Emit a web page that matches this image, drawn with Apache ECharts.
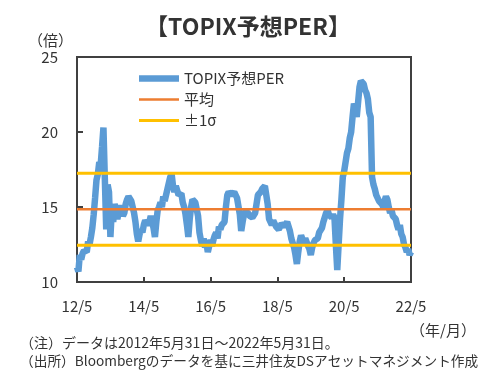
<!DOCTYPE html>
<html><head><meta charset="utf-8">
<script src="https://cdn.jsdelivr.net/npm/echarts@6/dist/echarts.min.js"></script>
<style>html,body{margin:0;padding:0;background:#fff}#c{width:502px;height:382px}</style>
</head><body><div id="c"></div>
<script>
// Month offsets from 2012/5 (half-month steps) and TOPIX forward PER values
const perValues = [
 11.0,10.7,11.8,11.5,11.9,12.1,12.2,12.0,12.7,12.5,13.0,13.6,14.5,15.6,16.8,17.2,18.0,17.8,19.0,20.3,20.4,13.5,16.5,16.0,
 13.0,14.8,14.0,15.2,14.8,14.2,14.3,15.1,15.0,14.4,14.6,15.2,15.5,15.7,15.6,15.4,15.0,14.6,14.0,13.2,12.7,13.2,13.5,13.3,
 13.8,14.1,14.2,13.8,14.0,14.4,14.5,13.6,13.0,14.0,14.8,15.0,15.3,15.0,15.7,15.4,15.8,16.2,16.3,17.0,17.2,16.4,16.0,16.4,
 16.1,15.8,15.8,15.9,15.3,15.0,14.5,13.8,13.0,14.2,15.0,15.5,15.5,15.3,15.2,14.4,13.3,12.8,12.4,12.9,12.3,12.6,12.0,12.4,
 12.8,12.4,12.8,13.1,13.3,12.9,13.7,13.5,13.8,13.9,14.0,15.0,15.8,16.0,16.1,15.8,15.9,16.0,15.9,15.6,15.7,14.5,13.4,14.0,
 14.5,14.7,14.8,14.6,14.4,14.5,14.3,14.2,14.6,15.2,15.8,15.9,16.0,16.2,16.2,16.4,16.3,15.2,14.2,14.0,13.8,14.1,14.0,13.7,
 13.8,13.5,13.6,13.9,14.0,13.7,13.8,14.0,13.9,13.4,12.9,12.6,12.3,11.8,11.2,12.0,12.7,13.1,13.0,12.6,12.9,12.8,12.4,12.2,
 11.8,12.3,12.6,12.8,12.7,12.9,13.3,13.2,13.6,14.0,14.3,14.6,14.8,14.5,14.6,14.3,14.5,14.3,12.5,10.8,12.5,14.2,15.5,17.0,
 17.4,18.0,18.6,18.9,19.6,20.0,21.0,21.9,21.5,21.0,22.0,23.0,23.4,23.5,23.2,22.8,22.6,22.2,21.3,21.0,17.0,16.5,16.2,15.8,
 15.7,15.4,15.5,15.2,15.0,15.4,15.7,15.5,15.0,14.6,14.8,14.4,14.5,14.2,13.8,13.5,13.8,13.2,13.0,12.5,12.3,12.0,12.2,11.8,
 12.0
];
const monthStep = 0.5;
const meanValue = 14.85;
const sigmaUpper = 17.25;
const sigmaLower = 12.45;
const xTickLabels = ['12/5','14/5','16/5','18/5','20/5','22/5'];
const yTicks = [10, 15, 20, 25];

const perData = perValues.map((v, i) => [i * monthStep, v]);
const xMax = (perValues.length - 1) * monthStep;

const chart = echarts.init(document.getElementById('c'), null, {renderer: 'canvas'});
const font = '"Noto Sans CJK JP", "Noto Sans", sans-serif';
const txt = '#333333';
chart.setOption({
  animation: false,
  backgroundColor: '#ffffff',
  textStyle: {fontFamily: font},
  title: [
    {text: '【TOPIX予想PER】', left: 243, top: 10, textAlign: 'center',
     textStyle: {fontSize: 23, fontWeight: 'bold', color: '#333333', fontFamily: font}},
    {text: '（倍）', left: 23, top: 28, textStyle: {fontSize: 15, fontWeight: 'normal', color: txt, fontFamily: font}},
    {text: '（年/月）', left: 405, top: 318, textStyle: {fontSize: 15, fontWeight: 'normal', color: txt, fontFamily: font}},
    {text: '（注）データは2012年5月31日～2022年5月31日。', left: 15, top: 331,
     textStyle: {fontSize: 14, fontWeight: 'normal', color: txt, fontFamily: font}},
    {text: '（出所）Bloombergのデータを基に三井住友DSアセットマネジメント作成', left: 15, top: 349,
     textStyle: {fontSize: 13.7, fontWeight: 'normal', color: txt, fontFamily: font}}
  ],
  legend: {
    orient: 'vertical', left: 134, top: 66, itemGap: 6, itemWidth: 40, itemHeight: 16,
    textStyle: {fontSize: 15, color: txt, fontFamily: font},
    data: [
      {name: 'TOPIX予想PER', icon: 'path://M0,0H40V6.5H0Z'},
      {name: '平均', icon: 'path://M0,0H40V2.5H0Z'},
      {name: '±1σ', icon: 'path://M0,0H40V3H0Z'}
    ]
  },
  grid: {left: 77, right: 91, top: 57, bottom: 100, show: true, borderColor: '#404040', borderWidth: 2},
  xAxis: {
    type: 'value', min: 0, max: xMax, interval: 24,
    axisLine: {show: true, lineStyle: {color: '#404040', width: 2}},
    axisTick: {show: true, inside: true, length: 5, lineStyle: {color: '#404040', width: 2}},
    splitLine: {show: false},
    axisLabel: {color: txt, fontSize: 15, margin: 17, fontFamily: font,
      formatter: v => xTickLabels[Math.round(v / 24)] || ''}
  },
  yAxis: {
    type: 'value', min: yTicks[0], max: yTicks[yTicks.length - 1], interval: 5,
    axisLine: {show: true, lineStyle: {color: '#404040', width: 2}},
    axisTick: {show: true, inside: true, length: 6, lineStyle: {color: '#404040', width: 2}},
    splitLine: {show: false},
    axisLabel: {color: txt, fontSize: 15, margin: 19, fontFamily: font}
  },
  series: [
    {name: 'TOPIX予想PER', type: 'line', data: perData, showSymbol: false, symbol: 'none',
     lineStyle: {color: '#5B9BD5', width: 6.5}, itemStyle: {color: '#5B9BD5'}, z: 3},
    {name: '平均', type: 'line', data: [[0, meanValue], [xMax, meanValue]], showSymbol: false, symbol: 'none',
     lineStyle: {color: '#ED7D31', width: 2.5}, itemStyle: {color: '#ED7D31'}, z: 4},
    {name: '±1σ', type: 'line', data: [[0, sigmaUpper], [xMax, sigmaUpper]], showSymbol: false, symbol: 'none',
     lineStyle: {color: '#FFC000', width: 3}, itemStyle: {color: '#FFC000'}, z: 4},
    {name: '±1σ', type: 'line', data: [[0, sigmaLower], [xMax, sigmaLower]], showSymbol: false, symbol: 'none',
     lineStyle: {color: '#FFC000', width: 3}, itemStyle: {color: '#FFC000'}, z: 4}
  ]
});
</script>
</body></html>
